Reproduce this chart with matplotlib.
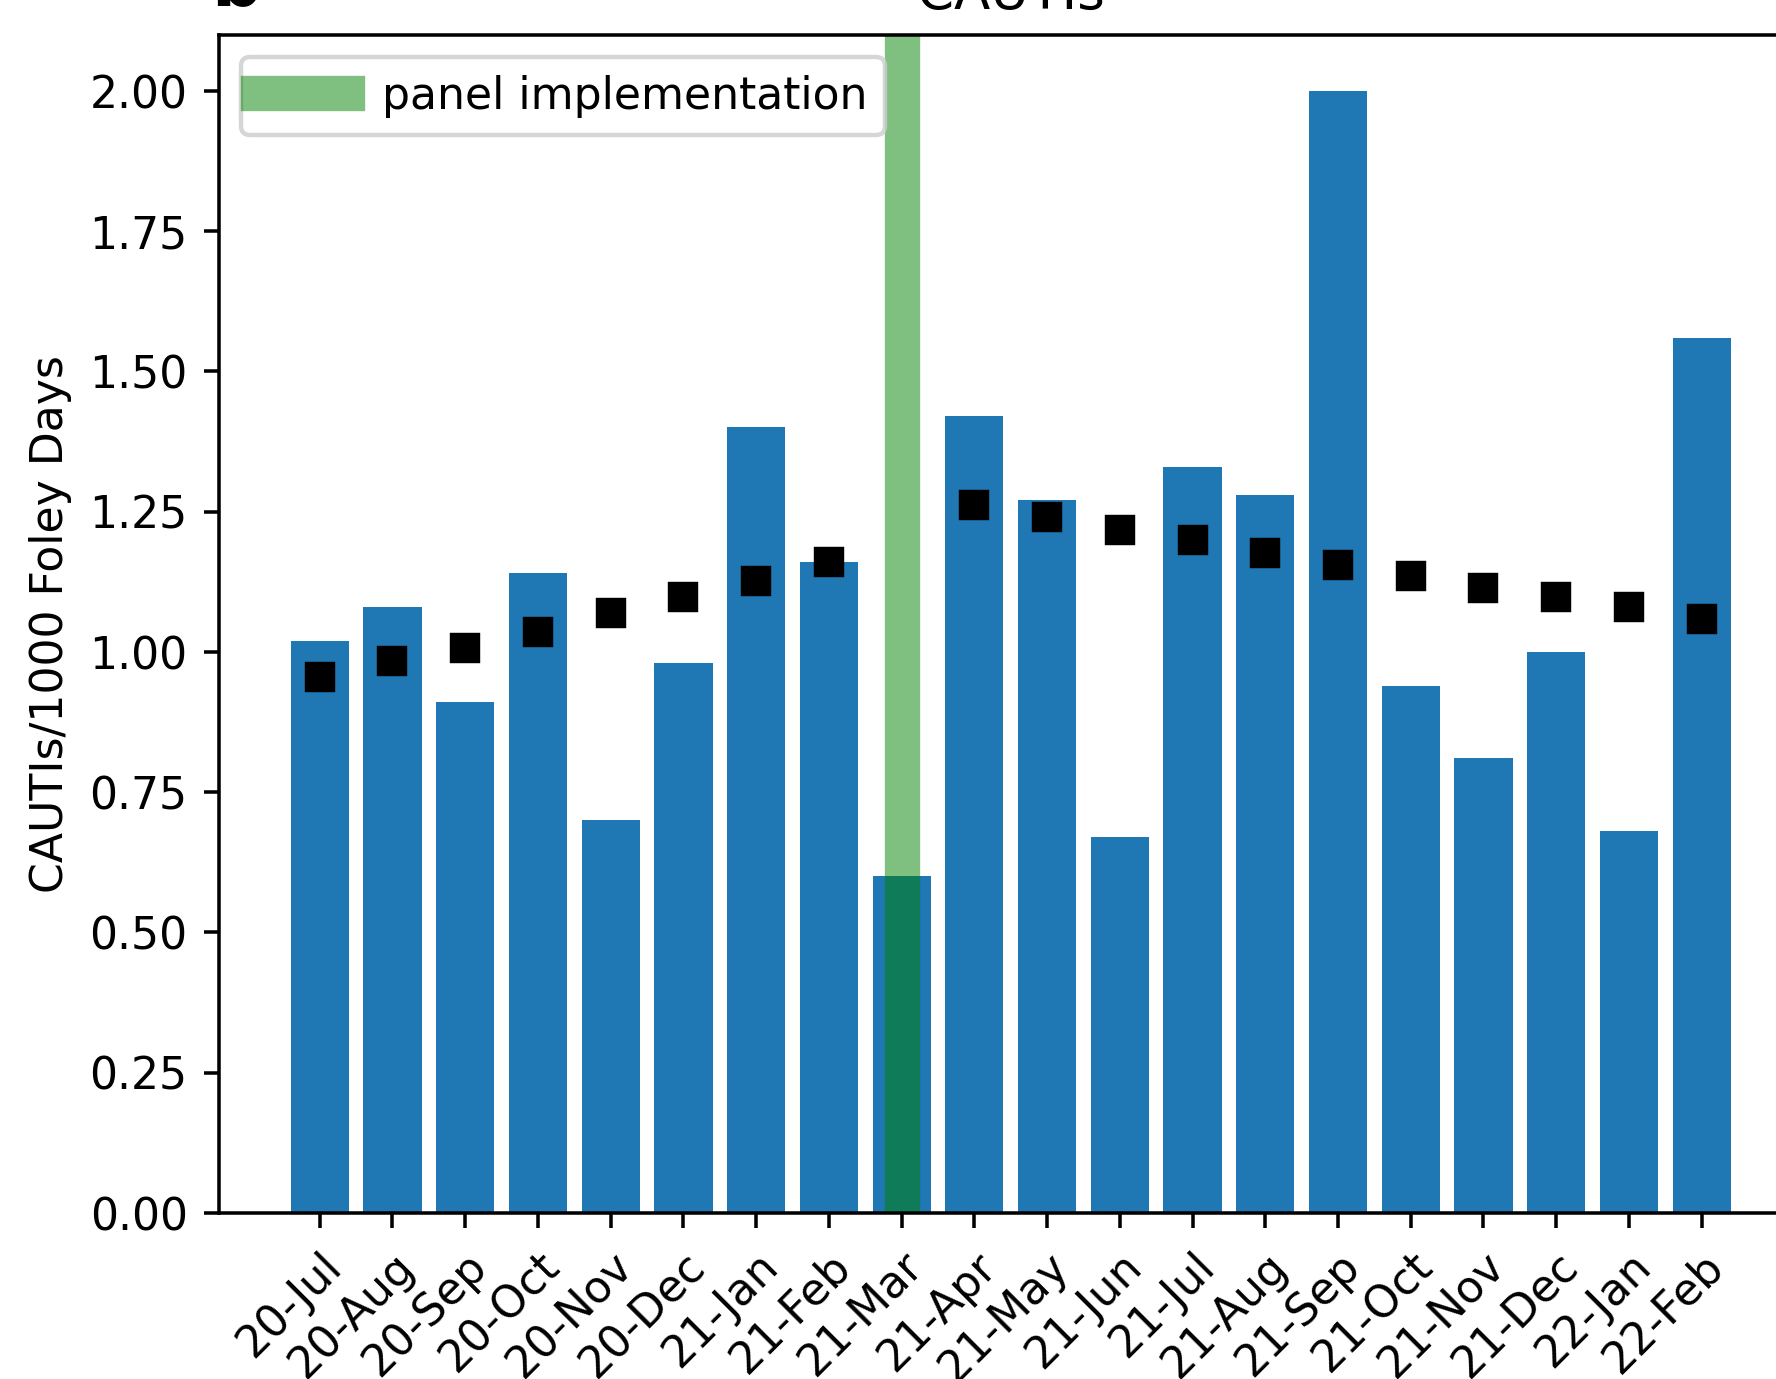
import numpy as np
import matplotlib.pyplot as plt

# maaneder
months = ['20-Jul', '20-Aug', '20-Sep', '20-Oct', '20-Nov', '20-Dec',
          '21-Jan', '21-Feb', '21-Mar', '21-Apr', '21-May', '21-Jun',
          '21-Jul', '21-Aug', '21-Sep', '21-Oct', '21-Nov', '21-Dec',
          '22-Jan', '22-Feb']

# CAUTI rate per maaned
rate = [1.02, 1.08, 0.91, 1.14, 0.70, 0.98, 1.40, 1.16, 0.60, 1.42,
        1.27, 0.67, 1.33, 1.28, 2.00, 0.94, 0.81, 1.00, 0.68, 1.56]

# trend punkter (ingen for 21-Mar)
trend = [0.955, 0.983, 1.007, 1.035, 1.070, 1.098, 1.126, 1.160, np.nan, 1.261,
         1.241, 1.217, 1.199, 1.177, 1.154, 1.136, 1.114, 1.098, 1.080, 1.058]

panel_month = '21-Mar'

dpi = 318
fig = plt.figure(figsize=(1776.3 / dpi, 1379.3 / dpi), dpi=dpi)
ax = fig.add_axes([0.1231, 0.1204, 0.8918, 0.8542])

x = np.arange(len(months))
ax.bar(x, rate, color='#1f77b4')
ax.plot(x, trend, linestyle='none', marker='s', color='black')
ax.axvline(months.index(panel_month), color='green', alpha=0.5, linewidth=8,
           label='panel implementation')

ax.set_xticks(x)
ax.set_xticklabels(months)
plt.setp(ax.get_xticklabels(), rotation=45, ha='right', rotation_mode='anchor')
ax.set_ylim(0, 2.1)
ax.set_yticks([0, 0.25, 0.5, 0.75, 1.0, 1.25, 1.5, 1.75, 2.0])
ax.set_ylabel('CAUTIs/1000 Foley Days')
ax.set_title('CAUTIs')
ax.legend(loc='upper left')

# panel bokstav (kuttet i toppen)
fig.text(236 / 1776, 1 - 5 / 1379, 'b', fontsize=16, fontweight='bold',
         ha='center', va='baseline')

fig.savefig('out.png', dpi=dpi)
